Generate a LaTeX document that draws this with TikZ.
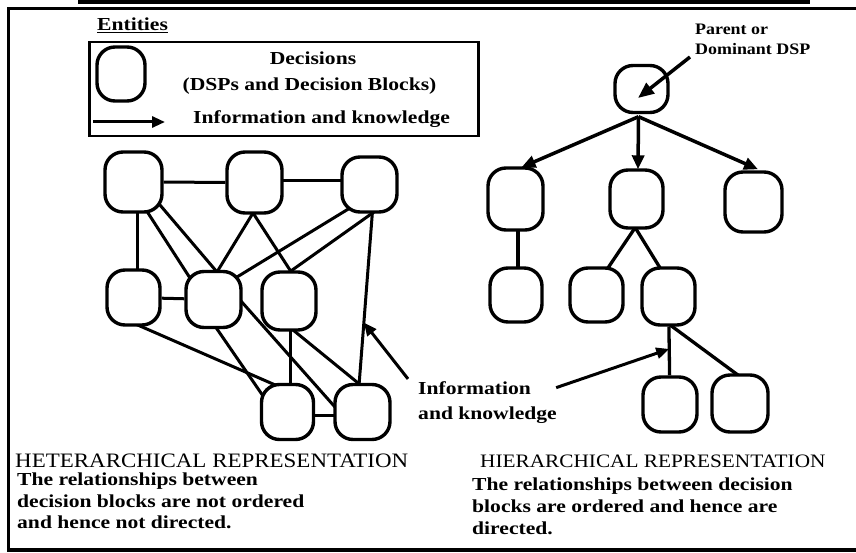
\documentclass[tikz,border=0pt]{standalone}
\usepackage{fontspec}
\setmainfont{Liberation Serif}
\newfontfamily\wideserif[FakeStretch=1.18]{Liberation Serif}
\newfontfamily\headserif[FakeStretch=1.12]{Liberation Serif}
\usetikzlibrary{arrows.meta,calc,backgrounds}

\begin{document}
\begin{tikzpicture}[x=1pt,y=-1pt,
  dec/.style 2 args={draw, line width=3.4pt, rounded corners=18pt, fill=white,
    minimum width=#1pt, minimum height=#2pt, inner sep=0pt},
  link/.style={line width=3pt},
  flow/.style={line width=3.5pt, -{Triangle[length=14pt,width=12pt]}},
  pointer/.style={line width=3pt, -{Triangle[length=13pt,width=11pt]}},
  body/.style={font=\wideserif\bfseries\fontsize{18.3}{21}\selectfont,
    inner sep=0pt, anchor=base west},
  note/.style={font=\headserif\bfseries\fontsize{16}{19}\selectfont,
    inner sep=0pt, anchor=base west},
  heading/.style={font=\headserif\fontsize{20.5}{24}\selectfont,
    inner sep=0pt, anchor=base west},
]
\useasboundingbox (0,0) rectangle (856,553);
\clip (0,0) rectangle (856,553);

% outer frame and top rule
\fill (78,0) rectangle (810,4);
\draw[line width=2.5pt] (870,8.5) -- (8.5,8.5) -- (8.5,549);
\draw[line width=4pt] (7.25,549.5) -- (870,549.5);

% legend
\node[body] (entities) at (97,31) {\underline{Entities}};
\node[draw, line width=2.5pt, anchor=north west, inner sep=0pt,
  minimum width=389pt, minimum height=94pt] (legend) at (88,41) {};
\node[dec={48}{54}] (keydec) at (121,74) {};
\node[body, anchor=base] (keytxt1) at (313,65) {Decisions};
\node[body, anchor=base] (keytxt2) at (309.5,91) {(DSPs and Decision Blocks)};
\coordinate (keytail) at (93,122);
\coordinate (keyhead) at (165,122);
\draw[pointer] (keytail) -- (keyhead);
\node[body] (keytxt3) at (193,124) {Information and knowledge};

% heterarchical network
\node[dec={57}{60}] (N1) at (133.5,182) {};
\node[dec={55}{61}] (N2) at (254.5,182.5) {};
\node[dec={55}{55}] (N3) at (369.5,184.5) {};
\node[dec={53}{55}] (N4) at (133.5,297.5) {};
\node[dec={55}{56}] (N5) at (213.5,299.5) {};
\node[dec={54}{58}] (N6) at (289,301) {};
\node[dec={52}{55}] (N7) at (287.5,412) {};
\node[dec={55}{55}] (N8) at (362.5,412) {};

% hierarchical tree
\node[dec={53}{47}] (R) at (641.5,89) {};
\node[dec={55}{62}] (H1) at (515.5,199) {};
\node[dec={53}{58}] (H2) at (636.5,199) {};
\node[dec={57}{60}] (H3) at (753.5,202) {};
\node[dec={52}{54}] (H4) at (516,295) {};
\node[dec={53}{54}] (H5) at (596.5,295) {};
\node[dec={53}{57}] (H6) at (668.5,296.5) {};
\node[dec={54}{55}] (H7) at (670,404.5) {};
\node[dec={56}{57}] (H8) at (740,403.5) {};

\begin{scope}[on background layer]
  \fill[white] (0,0) rectangle (856,553);
  % undirected links between decision blocks
  \draw[link] (N1) -- (N2);
  \draw[link] ($(N2)+(0,-2)$) -- ($(N3)+(0,-4)$);
  \draw[link] ($(N1)+(4,0)$) -- ($(N4)+(4,0)$);
  \draw[link] ($(N1)+(9.1,22.6)$) -- ($(N5)+(-18.1,-13.1)$);
  \draw[link] ($(N1)+(20,15.4)$) -- ($(N5)+(10,-19.9)$);
  \draw[link] ($(N2)+(3.7,22)$) -- ($(N5)+(-1.7,-19)$);
  \draw[link] ($(N2)+(-6.9,22.1)$) -- ($(N6)+(6.4,-22.6)$);
  \draw[link] ($(N3)+(-11,18.3)$) -- ($(N5)+(15,-17.3)$);
  \draw[link] ($(N3)+(11.5,22.5)$) -- ($(N6)+(-7.3,-23.5)$);
  \draw[link] ($(N3)+(3.5,20)$) -- coordinate[pos=0.63] (hetmark) ($(N8)+(-4,-20)$);
  \draw[link] (N4) -- (N5);
  \draw[link] ($(N4)+(-2.7,24.5)$) -- ($(N7)+(1.5,-21)$);
  \draw[link] ($(N5)+(-3.5,19.3)$) -- ($(N7)+(-15.5,-3)$);
  \draw[link] ($(N5)+(19.9,-7)$) -- ($(N8)+(-20.9,2.5)$);
  \draw[link] ($(N6)+(1,0)$) -- ($(N7)+(2.5,0)$);
  \draw[link] ($(N6)+(-3.7,22.7)$) -- ($(N8)+(3.3,-22.7)$);
  \draw[link] ($(N7)+(0,3)$) -- ($(N8)+(0,3)$);
  % lower links of the tree
  \draw[link, line width=3.3pt] ($(H1)+(2.5,0)$) -- ($(H4)+(2,0)$);
  \draw[link, line width=3.3pt] ($(H2)+(4,20.7)$) -- ($(H5)+(5,-17.5)$);
  \draw[link, line width=3.3pt] ($(H2)+(-6.3,20.5)$) -- ($(H6)+(-3.7,-20.9)$);
  \draw[link, line width=3.3pt] (H6) -- coordinate[pos=0.458] (hiermark) (H7);
  \draw[link, line width=3.3pt] ($(H6)+(-6.5,22.5)$) -- ($(H8)+(6,-22.5)$);
\end{scope}

% directed flow from the dominant DSP
\coordinate (fork) at ($(R.south)+(-3,2.5)$);
\draw[flow] (fork) -- ($(H1.north)+(6,1)$);
\draw[flow] (fork) -- ($(H2.north)+(1.5,1)$);
\draw[flow] (fork) -- ($(H3.north)+(4.5,-1)$);

% annotations
\node[note] (par1) at (695,35) {Parent or};
\node[note] (par2) at (695,55) {Dominant DSP};
\draw[line width=3.5pt, -{Triangle[length=16pt,width=13pt]}]
  ($(par2.base west)+(-5,2)$) -- ($(R)+(-3.5,9)$);

\node[body] (info1) at (418,394) {Information};
\node[body] (info2) at (418,419) {and knowledge};
\draw[pointer] ($(info1.north west)+(-10,-2)$) -- (hetmark);
\draw[pointer] ($(info1.east)+(25,0)$) -- (hiermark);

% captions
\node[heading] (hethead) at (15,467) {HETERARCHICAL REPRESENTATION};
\node[body] (hetl1) at (17,485) {The relationships between};
\node[body] (hetl2) at (17,507) {decision blocks are not ordered};
\node[body] (hetl3) at (17,528) {and hence not directed.};

\node[heading, font=\headserif\fontsize{19}{22}\selectfont] (hierhead) at (480,467) {HIERARCHICAL REPRESENTATION};
\node[body] (hierl1) at (472,490) {The relationships between decision};
\node[body] (hierl2) at (472,512) {blocks are ordered and hence are};
\node[body] (hierl3) at (472,534) {directed.};
\end{tikzpicture}
\end{document}
